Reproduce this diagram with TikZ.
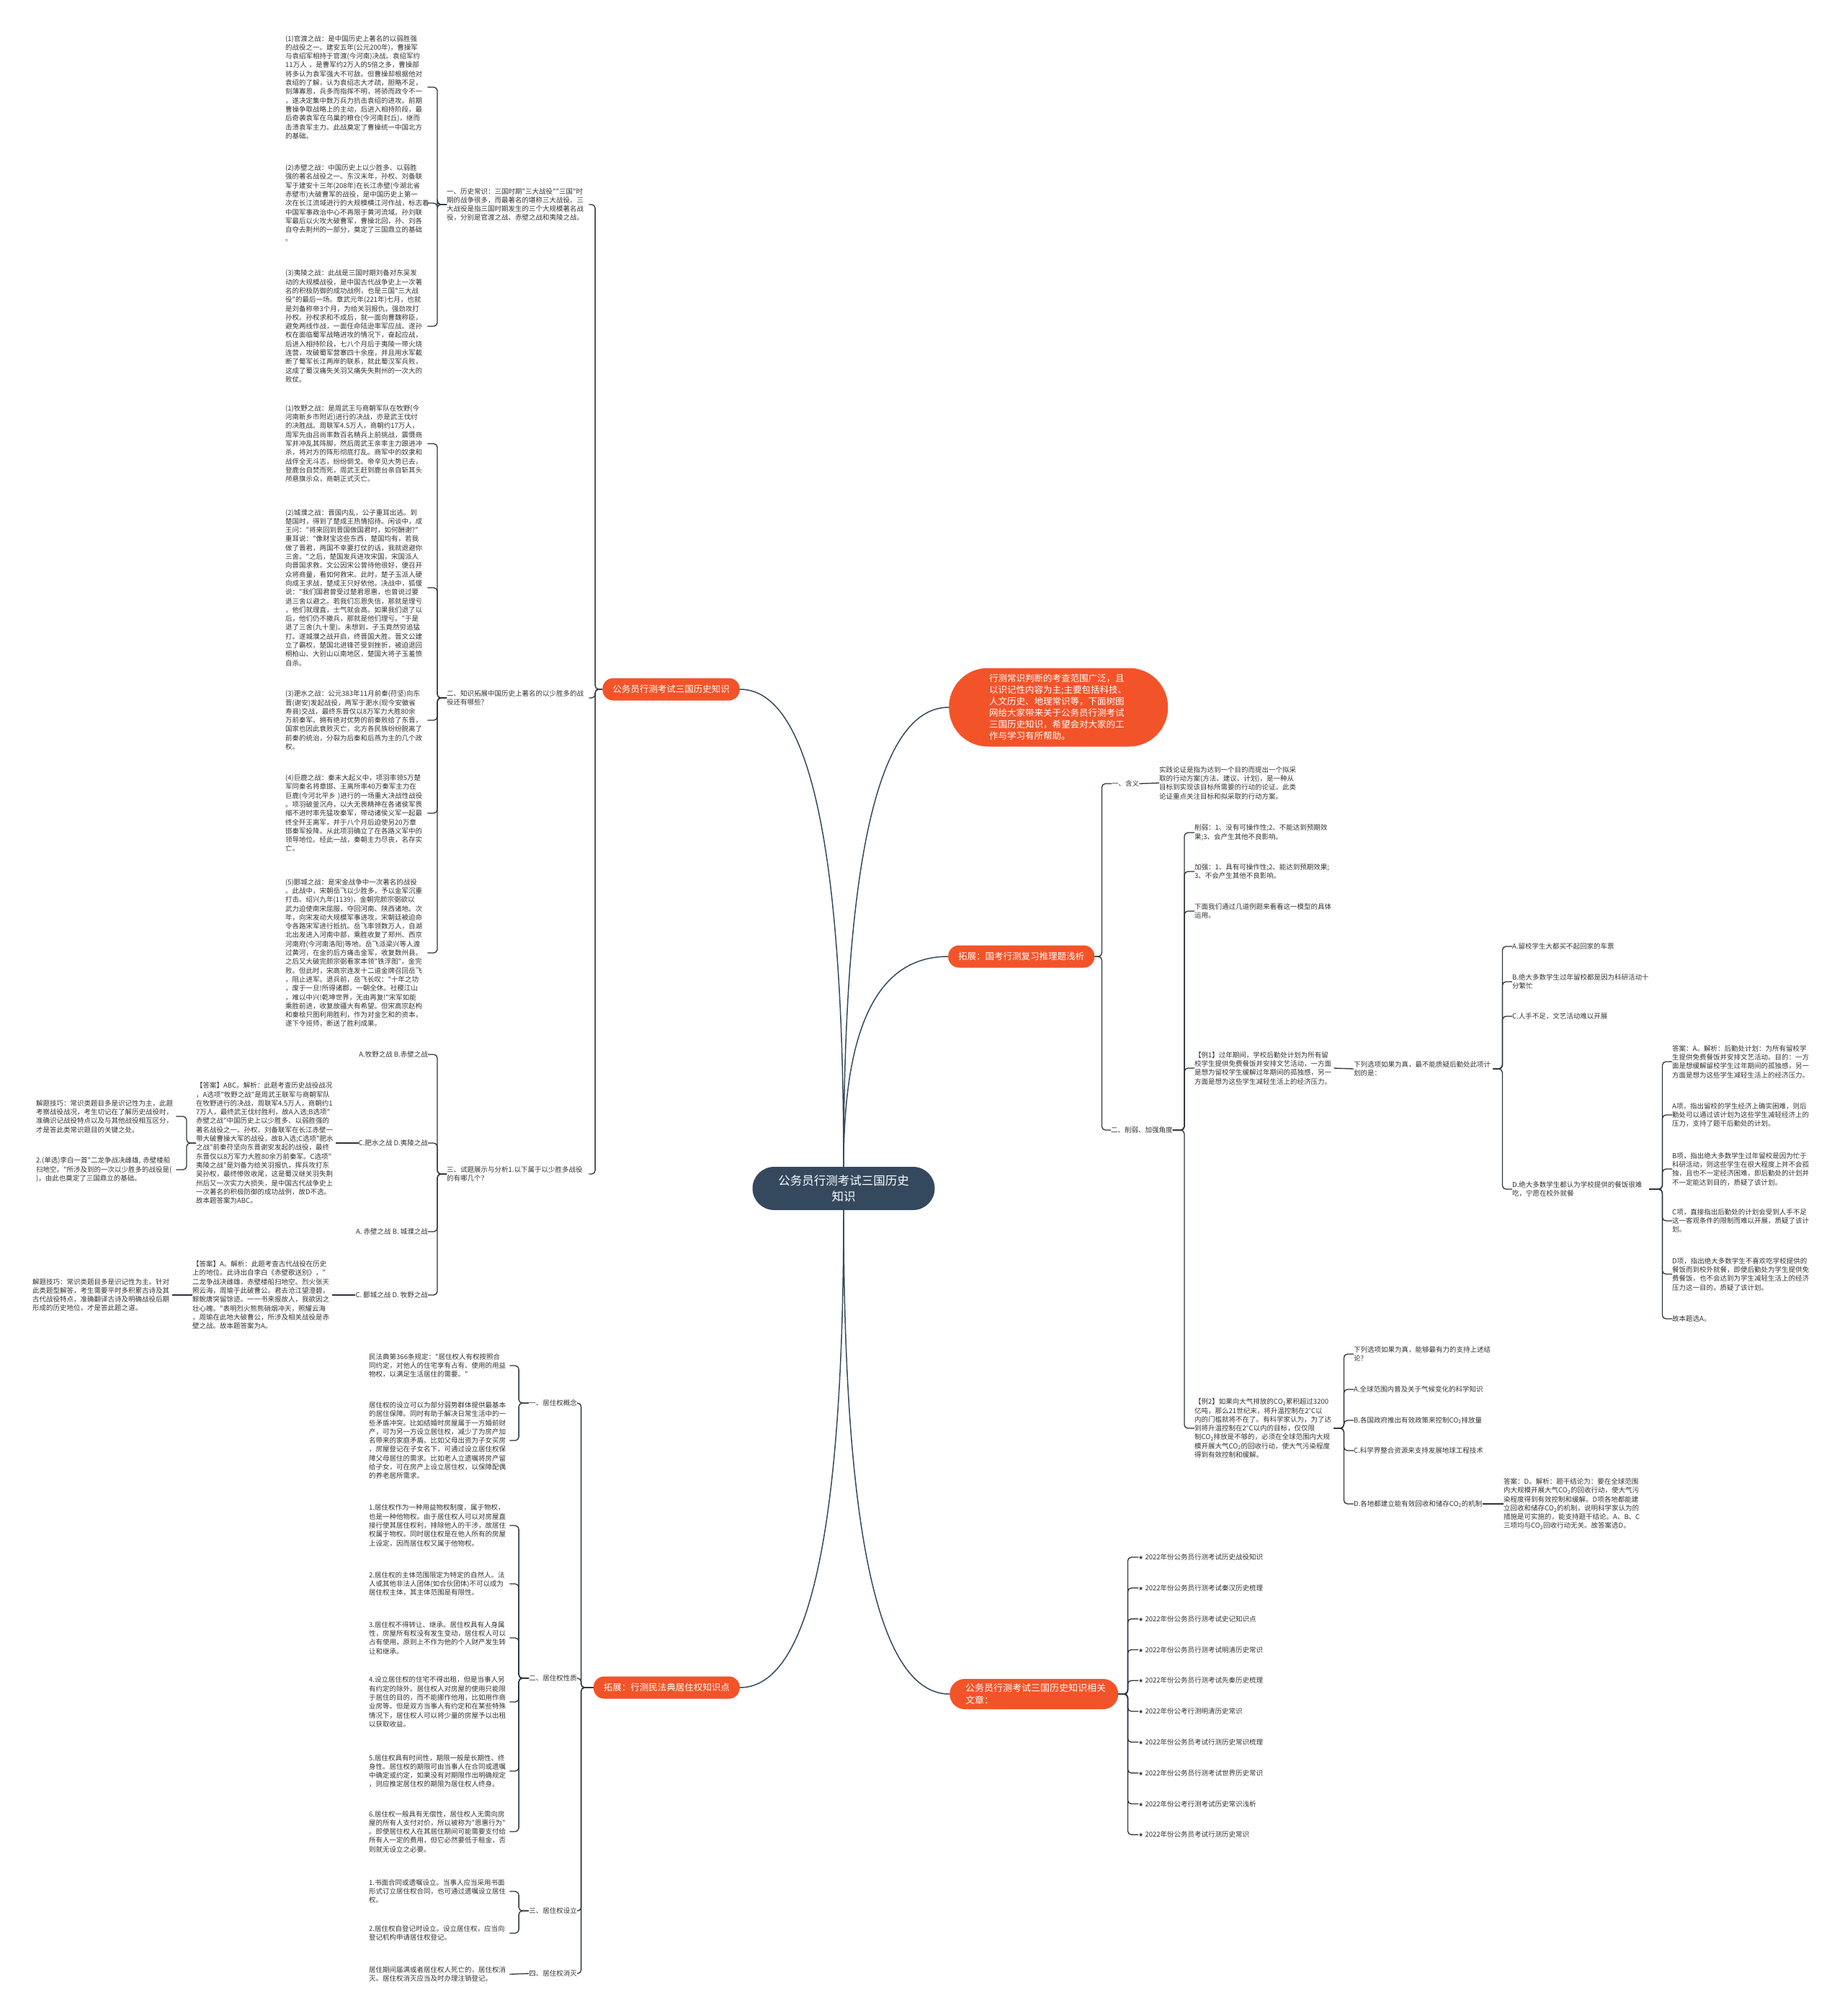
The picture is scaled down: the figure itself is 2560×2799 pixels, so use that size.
\documentclass[tikz,border=0pt]{standalone}
\usepackage{fontspec}
\newfontfamily\cjk{Noto Sans CJK SC}
\newfontfamily\sym{DejaVu Sans}
\usetikzlibrary{calc}

\definecolor{linkc}{RGB}{45,52,60}
\definecolor{txtc}{RGB}{51,51,51}
\definecolor{orng}{RGB}{243,83,41}
\definecolor{slate}{RGB}{52,73,94}

\tikzset{
  txt/.style={font=\cjk\fontsize{9.5}{12.3}\selectfont, text=txtc, align=left, inner sep=0pt, anchor=west},
  para/.style={txt, text width=#1},
  para/.default=195pt,
  hub/.style={fill=slate, text=white, font=\cjk\fontsize{16.5}{22}\selectfont, align=center,
    minimum width=253pt, minimum height=60pt, rounded corners=30pt, inner sep=0pt},
  main/.style={fill=orng, text=white, font=\cjk\fontsize{12.5}{16}\selectfont, align=left,
    minimum height=31pt, inner xsep=14pt, inner ysep=0pt, rounded corners=15pt},
  link/.style={draw=linkc, line width=1.3pt, rounded corners=5pt},
  branch/.style={draw=slate, line width=1.5pt}
}

\begin{document}
\begin{tikzpicture}[x=1pt, y=-1pt]
\useasboundingbox (0,0) rectangle (2560,2799);

% 中心
\node[hub] (root) at (1171,1650) {公务员行测考试三国历史\\知识};

% 左上：三国历史知识
\node[main, anchor=east] (L) at (1027,957) {公务员行测考试三国历史知识};

\node[para=197pt] (L1) at (620,284) {一、历史常识：三国时期"三大战役""三国"时\\期的战争很多，而最著名的堪称三大战役。三\\大战役是指三国时期发生的三个大规模著名战\\役，分别是官渡之战、赤壁之战和夷陵之战。};
\node[para=197pt] (L2) at (620,969) {二、知识拓展中国历史上著名的以少胜多的战\\役还有哪些？};
\node[para=197pt] (L3) at (620,1630) {三、试题展示与分析1.以下属于以少胜多战役\\的有哪几个？};

% 三大战役
\node[para=197pt] (g1) at (396,121) {(1)官渡之战：是中国历史上著名的以弱胜强\\的战役之一。建安五年(公元200年)，曹操军\\与袁绍军相持于官渡(今河南)决战。袁绍军约\\11万人~，是曹军约2万人的5倍之多，曹操部\\将多认为袁军强大不可敌。但曹操却根据他对\\袁绍的了解，认为袁绍志大才疏，胆略不足，\\刻薄寡恩，兵多而指挥不明，将骄而政令不一\\，遂决定集中数万兵力抗击袁绍的进攻。前期\\曹操争取战略上的主动，后进入相持阶段，最\\后奇袭袁军在乌巢的粮仓(今河南封丘)，继而\\击溃袁军主力。此战奠定了曹操统一中国北方\\的基础。};
\node[para=197pt] (g2) at (396,282) {(2)赤壁之战：中国历史上以少胜多、以弱胜\\强的著名战役之一。东汉末年，孙权、刘备联\\军于建安十三年(208年)在长江赤壁(今湖北省\\赤壁市)大破曹军的战役，是中国历史上第一\\次在长江流域进行的大规模横江河作战，标志着\\中国军事政治中心不再限于黄河流域。孙刘联\\军最后以火攻大破曹军，曹操北回，孙、刘各\\自夺去荆州的一部分，奠定了三国鼎立的基础\\。};
\node[para=197pt] (g3) at (396,453) {(3)夷陵之战：此战是三国时期刘备对东吴发\\动的大规模战役，是中国古代战争史上一次著\\名的积极防御的成功战例，也是三国"三大战\\役"的最后一场。章武元年(221年)七月，也就\\是刘备称帝3个月，为给关羽报仇，强劲攻打\\孙权。孙权求和不成后，就一面向曹魏称臣，\\避免两线作战，一面任命陆逊率军应战。遂孙\\权在面临蜀军战略进攻的情况下，奋起应战，\\后进入相持阶段，七八个月后于夷陵一带火烧\\连营，攻破蜀军营寨四十余座，并且用水军截\\断了蜀军长江两岸的联系，就此蜀汉军兵败，\\这成了蜀汉痛失关羽又痛失失荆州的一次大的\\败仗。};

% 以少胜多的战役
\node[para=197pt] (h1) at (396,616) {(1)牧野之战：是周武王与商朝军队在牧野(今\\河南新乡市附近)进行的决战，亦是武王伐纣\\的决胜战。周联军4.5万人，商朝约17万人，\\周军先由吕尚率数百名精兵上前挑战，震慑商\\军并冲乱其阵脚，然后周武王亲率主力跟进冲\\杀，将对方的阵形彻底打乱。商军中的奴隶和\\战俘全无斗志，纷纷倒戈。帝辛见大势已去，\\登鹿台自焚而死，周武王赶到鹿台亲自斩其头\\颅悬旗示众，商朝正式灭亡。};
\node[para=197pt] (h2) at (396,816) {(2)城濮之战：晋国内乱，公子重耳出逃。到\\楚国时，得到了楚成王热情招待。闲谈中，成\\王问："将来回到晋国做国君时，如何酬谢?"\\重耳说："像财宝这些东西，楚国均有，若我\\做了晋君，两国不幸要打仗的话，我就退避你\\三舍。"之后，楚国发兵进攻宋国，宋国派人\\向晋国求救。文公因宋公曾待他很好，便召开\\众将商量，看如何救宋。此时，楚子玉派人硬\\向成王求战，楚成王只好依他。决战中，狐偃\\说："我们国君曾受过楚君恩惠，也曾说过要\\退三舍以避之。若我们忘恩失信，那就是理亏\\，他们就理直，士气就会高。如果我们退了以\\后，他们仍不撤兵，那就是他们理亏。"于是\\退了三舍(九十里)。未想到，子玉竟然穷追猛\\打。遂城濮之战开启，终晋国大胜。晋文公建\\立了霸权，楚国北进锋芒受到挫折，被迫退回\\桐柏山、大别山以南地区，楚国大将子玉羞愤\\自杀。};
\node[para=197pt] (h3) at (396,1000) {(3)淝水之战：公元383年11月前秦(苻坚)向东\\晋(谢安)发起战役，两军于淝水(现今安徽省\\寿县)交战，最终东晋仅以8万军力大胜80余\\万前秦军。拥有绝对优势的前秦败给了东晋，\\国家也因此衰败灭亡，北方各民族纷纷脱离了\\前秦的统治，分裂为后秦和后燕为主的几个政\\权。};
\node[para=197pt] (h4) at (396,1129) {(4)巨鹿之战：秦末大起义中，项羽率领5万楚\\军同秦名将章邯、王离所率40万秦军主力在\\巨鹿(今河北平乡~)进行的一场重大决战性战役\\。项羽破釜沉舟，以大无畏精神在各诸侯军畏\\缩不进时率先猛攻秦军，带动诸侯义军一起最\\终全歼王离军，并于八个月后迫使另20万章\\邯秦军投降。从此项羽确立了在各路义军中的\\领导地位。经此一战，秦朝主力尽丧，名存实\\亡。};
\node[para=197pt] (h5) at (396,1323) {(5)郾城之战：是宋金战争中一次著名的战役\\。此战中，宋朝岳飞以少胜多，予以金军沉重\\打击。绍兴九年(1139)，金朝完颜宗弼欲以\\武力迫使南宋屈服，夺回河南、陕西诸地。次\\年，向宋发动大规模军事进攻，宋朝廷被迫命\\令各路宋军进行抵抗。岳飞率领数万人，自湖\\北出发进入河南中部，乘胜收复了郑州、西京\\河南府(今河南洛阳)等地。岳飞派梁兴等人渡\\过黄河，在金的后方痛击金军，收复数州县。\\之后又大破完颜宗弼看家本领"铁浮图"，金完\\败。但此时，宋高宗连发十二道金牌召回岳飞\\，阻止进军。退兵前，岳飞长叹："十年之功\\，废于一旦!所得诸郡，一朝全休。社稷江山\\，难以中兴!乾坤世界，无由再复!"宋军如能\\乘胜前进，收复故疆大有希望。但宋高宗赵构\\和秦桧只图利用胜利，作为对金乞和的资本，\\遂下令班师，断送了胜利成果。};

% 试题
\node[txt, anchor=east] (q1) at (594,1464) {A.牧野之战 B.赤壁之战};
\node[txt, anchor=east] (q2) at (594,1587) {C.肥水之战 D.夷陵之战};
\node[txt, anchor=east] (q3) at (594,1710) {A. 赤壁之战 B. 城濮之战};
\node[txt, anchor=east] (q4) at (594,1798) {C. 郾城之战 D. 牧野之战};

\node[para=194pt] (ans1) at (272,1587) {【答案】ABC。解析：此题考查历史战役战况\\，A选项"牧野之战"是周武王联军与商朝军队\\在牧野进行的决战，周联军4.5万人，商朝约1\\7万人，最终武王伐纣胜利，故A入选;B选项"\\赤壁之战"中国历史上以少胜多、以弱胜强的\\著名战役之一。孙权、刘备联军在长江赤壁一\\带大破曹操大军的战役，故B入选;C选项"肥水\\之战"前秦苻坚向东晋谢安发起的战役，最终\\东晋仅以8万军力大胜80余万前秦军。C选项"\\夷陵之战"是刘备为给关羽报仇，挥兵攻打东\\吴孙权，最终惨败收尾，这是蜀汉继关羽失荆\\州后又一次实力大损失，是中国古代战争史上\\一次著名的积极防御的成功战例，故D不选。\\故本题答案为ABC。};
\node[para=194pt] (tip1) at (50,1550) {解题技巧：常识类题目多是识记性为主，此题\\考察战役战况，考生切记在了解历史战役时，\\准确识记战役特点以及与其他战役相互区分，\\才是答此类常识题目的关键之处。};
\node[para=194pt] (tip2) at (50,1624) {2.(单选)李白一首"二龙争战决雌雄,~赤壁楼船\\扫地空。"所涉及到的一次以少胜多的战役是(\\)，由此也奠定了三国鼎立的基础。};

\node[para=194pt] (ans2) at (267,1798) {【答案】A。解析：此题考查古代战役在历史\\上的地位。此诗出自李白《赤壁歌送别》，"\\二龙争战决雌雄，赤壁楼船扫地空。烈火张天\\照云海，周瑜于此破曹公。君去沧江望澄碧，\\鲸鲵唐突留馀迹。一一书来报故人，我欲因之\\壮心魄。"表明烈火熊熊硝烟冲天，照耀云海\\，周瑜在此地大破曹公，所涉及相关战役是赤\\壁之战。故本题答案为A。};
\node[para=194pt] (tip3) at (45,1798) {解题技巧：常识类题目多是识记性为主。针对\\此类题型解答，考生需要平时多积累古诗及其\\古代战役特点，准确翻译古诗及明确战役后期\\形成的历史地位，才是答此题之道。};

% 左下：居住权
\node[main, anchor=east] (M) at (1027,2343) {拓展：行测民法典居住权知识点};

\node[txt, anchor=east] (m1) at (801,1948) {一、居住权概念};
\node[txt, anchor=east] (m2) at (801,2330) {二、居住权性质};
\node[txt, anchor=east] (m3) at (801,2653) {三、居住权设立};
\node[txt, anchor=east] (m4) at (801,2740) {四、居住权消灭};

\node[para] (n1) at (512,1896) {民法典第366条规定："居住权人有权按照合\\同约定，对他人的住宅享有占有、使用的用益\\物权，以满足生活居住的需要。"};
\node[para] (n2) at (512,2000) {居住权的设立可以为部分弱势群体提供最基本\\的居住保障。同时有助于解决日常生活中的一\\些矛盾冲突。比如结婚时房屋属于一方婚前财\\产，可为另一方设立居住权，减少了为房产加\\名带来的家庭矛盾。比如父母出资为子女买房\\，房屋登记在子女名下，可通过设立居住权保\\障父母居住的需求。比如老人立遗嘱将房产留\\给子女，可在房产上设立居住权，以保障配偶\\的养老居所需求。};

\node[para] (p1) at (512,2118) {1.居住权作为一种用益物权制度，属于物权，\\也是一种他物权。由于居住权人可以对房屋直\\接行使其居住权利，排除他人的干涉，故居住\\权属于物权。同时居住权是在他人所有的房屋\\上设定，因而居住权又属于他物权。};
\node[para] (p2) at (512,2199) {2.居住权的主体范围限定为特定的自然人。法\\人或其他非法人团体(如合伙团体)不可以成为\\居住权主体，其主体范围是有限性。};
\node[para] (p3) at (512,2274) {3.居住权不得转让、继承。居住权具有人身属\\性，房屋所有权没有发生变动，居住权人可以\\占有使用，原则上不作为他的个人财产发生转\\让和继承。};
\node[para] (p4) at (512,2363) {4.设立居住权的住宅不得出租，但是当事人另\\有约定的除外。居住权人对房屋的使用只能限\\于居住的目的，而不能挪作他用，比如用作商\\业房等。但是双方当事人有约定和在某些特殊\\情况下，居住权人可以将少量的房屋予以出租\\以获取收益。};
\node[para] (p5) at (512,2459) {5.居住权具有时间性，期限一般是长期性、终\\身性。居住权的期限可由当事人在合同或遗嘱\\中确定或约定，如果没有对期限作出明确规定\\，则应推定居住权的期限为居住权人终身。};
\node[para] (p6) at (512,2543) {6.居住权一般具有无偿性，居住权人无需向房\\屋的所有人支付对价，所以被称为"恩惠行为"\\。即使居住权人在其居住期间可能需要支付给\\所有人一定的费用，但它必然要低于租金，否\\则就无设立之必要。};

\node[para] (r1) at (512,2626) {1.书面合同或遗嘱设立。当事人应当采用书面\\形式订立居住权合同，也可通过遗嘱设立居住\\权。};
\node[para] (r2) at (512,2684) {2.居住权自登记时设立。设立居住权，应当向\\登记机构申请居住权登记。};
\node[para] (s1) at (512,2741) {居住期间届满或者居住权人死亡的，居住权消\\灭。居住权消灭应当及时办理注销登记。};

% 右上：导语
\node[main, anchor=west, text width=192pt, minimum width=304pt, minimum height=109pt,
  rounded corners=54pt] (R0) at (1317,982) {行测常识判断的考查范围广泛，且\\以识记性内容为主;主要包括科技、\\人文历史、地理常识等，下面树图\\网给大家带来关于公务员行测考试\\三国历史知识，希望会对大家的工\\作与学习有所帮助。};

% 右中：推理题
\node[main, anchor=west] (R1) at (1316,1328) {拓展：国考行测复习推理题浅析};

\node[txt] (k1) at (1543,1088) {一、含义};
\node[txt] (k2) at (1542,1569) {二、削弱、加强角度};

\node[para=194pt] (def1) at (1609,1087) {实践论证是指为达到一个目的而提出一个拟采\\取的行动方案(方法、建议、计划)，是一种从\\目标到实现该目标所需要的行动的论证。此类\\论证重点关注目标和拟采取的行动方案。};

\node[para=193pt] (w1) at (1658,1156) {削弱：1、没有可操作性;2、不能达到预期效\\果;3、会产生其他不良影响。};
\node[para=193pt] (w2) at (1658,1210) {加强：1、具有可操作性;2、能达到预期效果;\\3、不会产生其他不良影响。};
\node[para=193pt] (w3) at (1658,1265) {下面我们通过几道例题来看看这一模型的具体\\运用。};
\node[para=193pt] (w4) at (1658,1483) {【例1】过年期间，学校后勤处计划为所有留\\校学生提供免费餐饭并安排文艺活动，一方面\\是想为留校学生缓解过年期间的孤独感，另一\\方面是想为这些学生减轻生活上的经济压力。};
\node[para=193pt] (w5) at (1658,1983) {【例2】如果向大气排放的CO\textsubscript{2}累积超过3200\\亿吨，那么21世纪末，将升温控制在2°C以\\内的门槛就将不在了。有科学家认为，为了达\\到将升温控制在2°C以内的目标，仅仅限\\制CO\textsubscript{2}排放是不够的，必须在全球范围内大规\\模开展大气CO\textsubscript{2}的回收行动，使大气污染程度\\得到有效控制和缓解。};

% 例1
\node[para=193pt] (e1) at (1879,1484) {下列选项如果为真，最不能质疑后勤处此项计\\划的是：};
\node[txt] (o1) at (2099,1314) {A.留校学生大都买不起回家的车票};
\node[para=190pt] (o2) at (2099,1363) {B.绝大多数学生过年留校都是因为科研活动十\\分繁忙};
\node[txt] (o3) at (2099,1411) {C.人手不足，文艺活动难以开展};
\node[para=190pt] (o4) at (2099,1651) {D.绝大多数学生都认为学校提供的餐饭很难\\吃，宁愿在校外就餐};

\node[para=193pt] (x1) at (2321,1474) {答案：A。解析：后勤处计划：为所有留校学\\生提供免费餐饭并安排文艺活动。目的：一方\\面是想缓解留校学生过年期间的孤独感，另一\\方面是想为这些学生减轻生活上的经济压力。};
\node[para=193pt] (x2) at (2321,1548) {A项，指出留校的学生经济上确实困难，则后\\勤处可以通过该计划为这些学生减轻经济上的\\压力，支持了题干后勤处的计划。};
\node[para=193pt] (x3) at (2321,1623) {B项，指出绝大多数学生过年留校是因为忙于\\科研活动，则这些学生在很大程度上并不会孤\\独，且也不一定经济困难，即后勤处的计划并\\不一定能达到目的，质疑了该计划。};
\node[para=193pt] (x4) at (2321,1695) {C项，直接指出后勤处的计划会受到人手不足\\这一客观条件的限制而难以开展，质疑了该计\\划。};
\node[para=193pt] (x5) at (2321,1769) {D项，指出绝大多数学生不喜欢吃学校提供的\\餐饭而到校外就餐，即便后勤处为学生提供免\\费餐饭，也不会达到为学生减轻生活上的经济\\压力这一目的，质疑了该计划。};
\node[txt] (x6) at (2321,1831) {故本题选A。};

% 例2
\node[para=193pt] (y1) at (1879,1880) {下列选项如果为真，能够最有力的支持上述结\\论?};
\node[txt] (y2) at (1879,1929) {A.全球范围内普及关于气候变化的科学知识};
\node[txt] (y3) at (1879,1972) {B.各国政府推出有效政策来控制CO\textsubscript{2}排放量};
\node[txt] (y4) at (1879,2014) {C.科学界整合资源来支持发展地球工程技术};
\node[txt] (y5) at (1879,2088) {D.各地都建立能有效回收和储存CO\textsubscript{2}的机制};
\node[para=193pt] (z1) at (2087,2088) {答案：D。解析：题干结论为：要在全球范围\\内大规模开展大气CO\textsubscript{2}的回收行动，使大气污\\染程度得到有效控制和缓解。D项各地都能建\\立回收和储存CO\textsubscript{2}的机制，说明科学家认为的\\措施是可实施的，能支持题干结论。A、B、C\\三项均与CO\textsubscript{2}回收行动无关。故答案选D。};

% 右下：相关文章
\node[main, anchor=west, text width=190pt, inner xsep=22pt, minimum height=42pt,
  rounded corners=21pt, font=\cjk\fontsize{13}{16.8}\selectfont] (R2) at (1318,2352) {公务员行测考试三国历史知识相关\\文章：};

\foreach \i/\s in {0/公务员行测考试历史战役知识, 1/公务员行测考试秦汉历史梳理,
  2/公务员行测考试史记知识点, 3/公务员行测考试明清历史常识, 4/公务员行测考试先秦历史梳理,
  5/公考行测明清历史常识, 6/公务员考试行测历史常识梳理, 7/公务员行测考试世界历史常识,
  8/公考行测考试历史常识浅析, 9/公务员考试行测历史常识}
  \node[txt] (art\i) at (1580,{2162+42.8*\i}) {{\sym\fontsize{8}{8}\selectfont ★} 2022年份\s};

% 中心到各分支
\foreach \t/\a in {L/east, R0/west, R1/west}
  \draw[branch] (root.north) .. controls ($(root.north)!.67!(root.north |- \t.\a)$)
    and ($(\t.\a)!.67!(root.north |- \t.\a)$) .. (\t.\a);
\foreach \t/\a in {M/east, R2/west}
  \draw[branch] (root.south) .. controls ($(root.south)!.67!(root.south |- \t.\a)$)
    and ($(\t.\a)!.67!(root.south |- \t.\a)$) .. (\t.\a);

% 左侧括线
\foreach \c in {L1,L2,L3} \draw[link] (L.west) -- ++(-10,0) |- (\c.east);
\foreach \c in {g1,g2,g3} \draw[link] (L1.west) -- ++(-13,0) |- (\c.east);
\foreach \c in {h1,h2,h3,h4,h5} \draw[link] (L2.west) -- ++(-13,0) |- (\c.east);
\foreach \c in {q1,q2,q3,q4} \draw[link] (L3.west) -- ++(-13,0) |- (\c.east);
\draw[link] (q2.west) -- (ans1.east);
\foreach \c in {tip1,tip2} \draw[link] (ans1.west) -- ++(-13,0) |- (\c.east);
\draw[link] (q4.west) -- (ans2.east);
\draw[link] (ans2.west) -- (tip3.east);

\foreach \c in {m1,m2,m3,m4} \draw[link] (M.west) -- ++(-17,0) |- (\c.east);
\foreach \c in {n1,n2} \draw[link] (m1.west) -- ++(-14,0) |- (\c.east);
\foreach \c in {p1,p2,p3,p4,p5,p6} \draw[link] (m2.west) -- ++(-14,0) |- (\c.east);
\foreach \c in {r1,r2} \draw[link] (m3.west) -- ++(-14,0) |- (\c.east);
\draw[link] (m4.west) -- (s1.east);

% 右侧括线
\foreach \c in {k1,k2} \draw[link] (R1.east) -- ++(10,0) |- (\c.west);
\draw[link] (k1.east) -- (def1.west);
\foreach \c in {w1,w2,w3,w4,w5} \draw[link] (k2.east) -- ++(16,0) |- (\c.west);
\draw[link] (w4.east) -- (e1.west);
\foreach \c in {o1,o2,o3,o4} \draw[link] (e1.east) -- ++(13,0) |- (\c.west);
\foreach \c in {x1,x2,x3,x4,x5,x6} \draw[link] (o4.east) -- ++(18,0) |- (\c.west);
\foreach \c in {y1,y2,y3,y4,y5} \draw[link] (w5.east) -- ++(14,0) |- (\c.west);
\draw[link] (y5.east) -- (z1.west);
\foreach \i in {0,...,9} \draw[link] (R2.east) -- ++(13,0) |- (art\i.west);

\end{tikzpicture}
\end{document}
